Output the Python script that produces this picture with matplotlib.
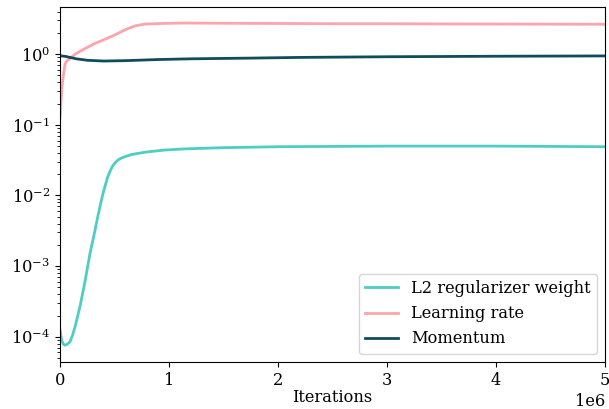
import matplotlib
matplotlib.use("Agg")
import matplotlib.pyplot as plt

# =====================================================
# DATA
# =====================================================

l2_iters = [0, 15e3, 30e3, 45e3, 65e3, 92e3, 115e3, 138e3, 160e3, 184e3,
            206e3, 229e3, 252e3, 275e3, 298e3, 321e3, 344e3, 367e3, 390e3,
            413e3, 436e3, 459e3, 482e3, 505e3, 535e3, 566e3, 610e3, 657e3,
            720e3, 780e3, 870e3, 963e3, 1.15e6, 1.5e6, 2.0e6, 2.5e6, 3.0e6,
            3.5e6, 4.0e6, 4.5e6, 5.0e6]
l2_weight = [1.25e-4, 9.0e-5, 7.9e-5, 7.6e-5, 7.8e-5, 8.5e-5, 1.05e-4,
             1.38e-4, 1.9e-4, 2.7e-4, 4.0e-4, 6.0e-4, 9.5e-4, 1.5e-3, 2.2e-3,
             3.2e-3, 4.8e-3, 7.0e-3, 1.0e-2, 1.35e-2, 1.8e-2, 2.2e-2, 2.6e-2,
             2.9e-2, 3.2e-2, 3.4e-2, 3.6e-2, 3.8e-2, 3.95e-2, 4.1e-2, 4.25e-2,
             4.4e-2, 4.57e-2, 4.75e-2, 4.9e-2, 4.95e-2, 5.0e-2, 5.0e-2,
             5.0e-2, 4.95e-2, 4.9e-2]

lr_iters = [0, 8e3, 18e3, 30e3, 46e3, 61e3, 92e3, 138e3, 229e3, 321e3, 413e3,
            505e3, 596e3, 688e3, 780e3, 963e3, 1.15e6, 1.5e6, 2.0e6, 2.5e6,
            3.0e6, 3.5e6, 4.0e6, 4.5e6, 5.0e6]
learning_rate = [0.12, 0.2, 0.34, 0.49, 0.72, 0.8, 0.87, 1.0, 1.2, 1.42, 1.63,
                 1.88, 2.21, 2.52, 2.67, 2.73, 2.76, 2.74, 2.72, 2.7, 2.7,
                 2.68, 2.67, 2.66, 2.65]

mom_iters = [0, 50e3, 150e3, 250e3, 400e3, 600e3, 900e3, 1.2e6, 1.75e6,
             2.2e6, 3.0e6, 4.0e6, 5.0e6]
momentum = [0.95, 0.93, 0.86, 0.82, 0.80, 0.81, 0.84, 0.86, 0.88, 0.90,
            0.92, 0.935, 0.945]

# =====================================================
# PLOT
# =====================================================

plt.rcParams["font.family"] = "DejaVu Serif"
plt.rcParams["font.size"] = 11.7

fig = plt.figure(figsize=(6.09, 4.09), dpi=100)
ax = fig.add_axes([0.0985, 0.115, 0.895, 0.867])

ax.plot(l2_iters, l2_weight, color="#4ECDC4", lw=2, label="L2 regularizer weight")
ax.plot(lr_iters, learning_rate, color="#FFA3AD", lw=2, label="Learning rate")
ax.plot(mom_iters, momentum, color="#0E4D5B", lw=2, label="Momentum")

ax.set_yscale("log")
ax.set_xlim(0, 5e6)
ax.set_ylim(4.4e-5, 4.6)
ax.set_xlabel("Iterations", labelpad=0)
ax.legend(loc="lower right")

fig.savefig("out.png", dpi=100)
plt.close()
